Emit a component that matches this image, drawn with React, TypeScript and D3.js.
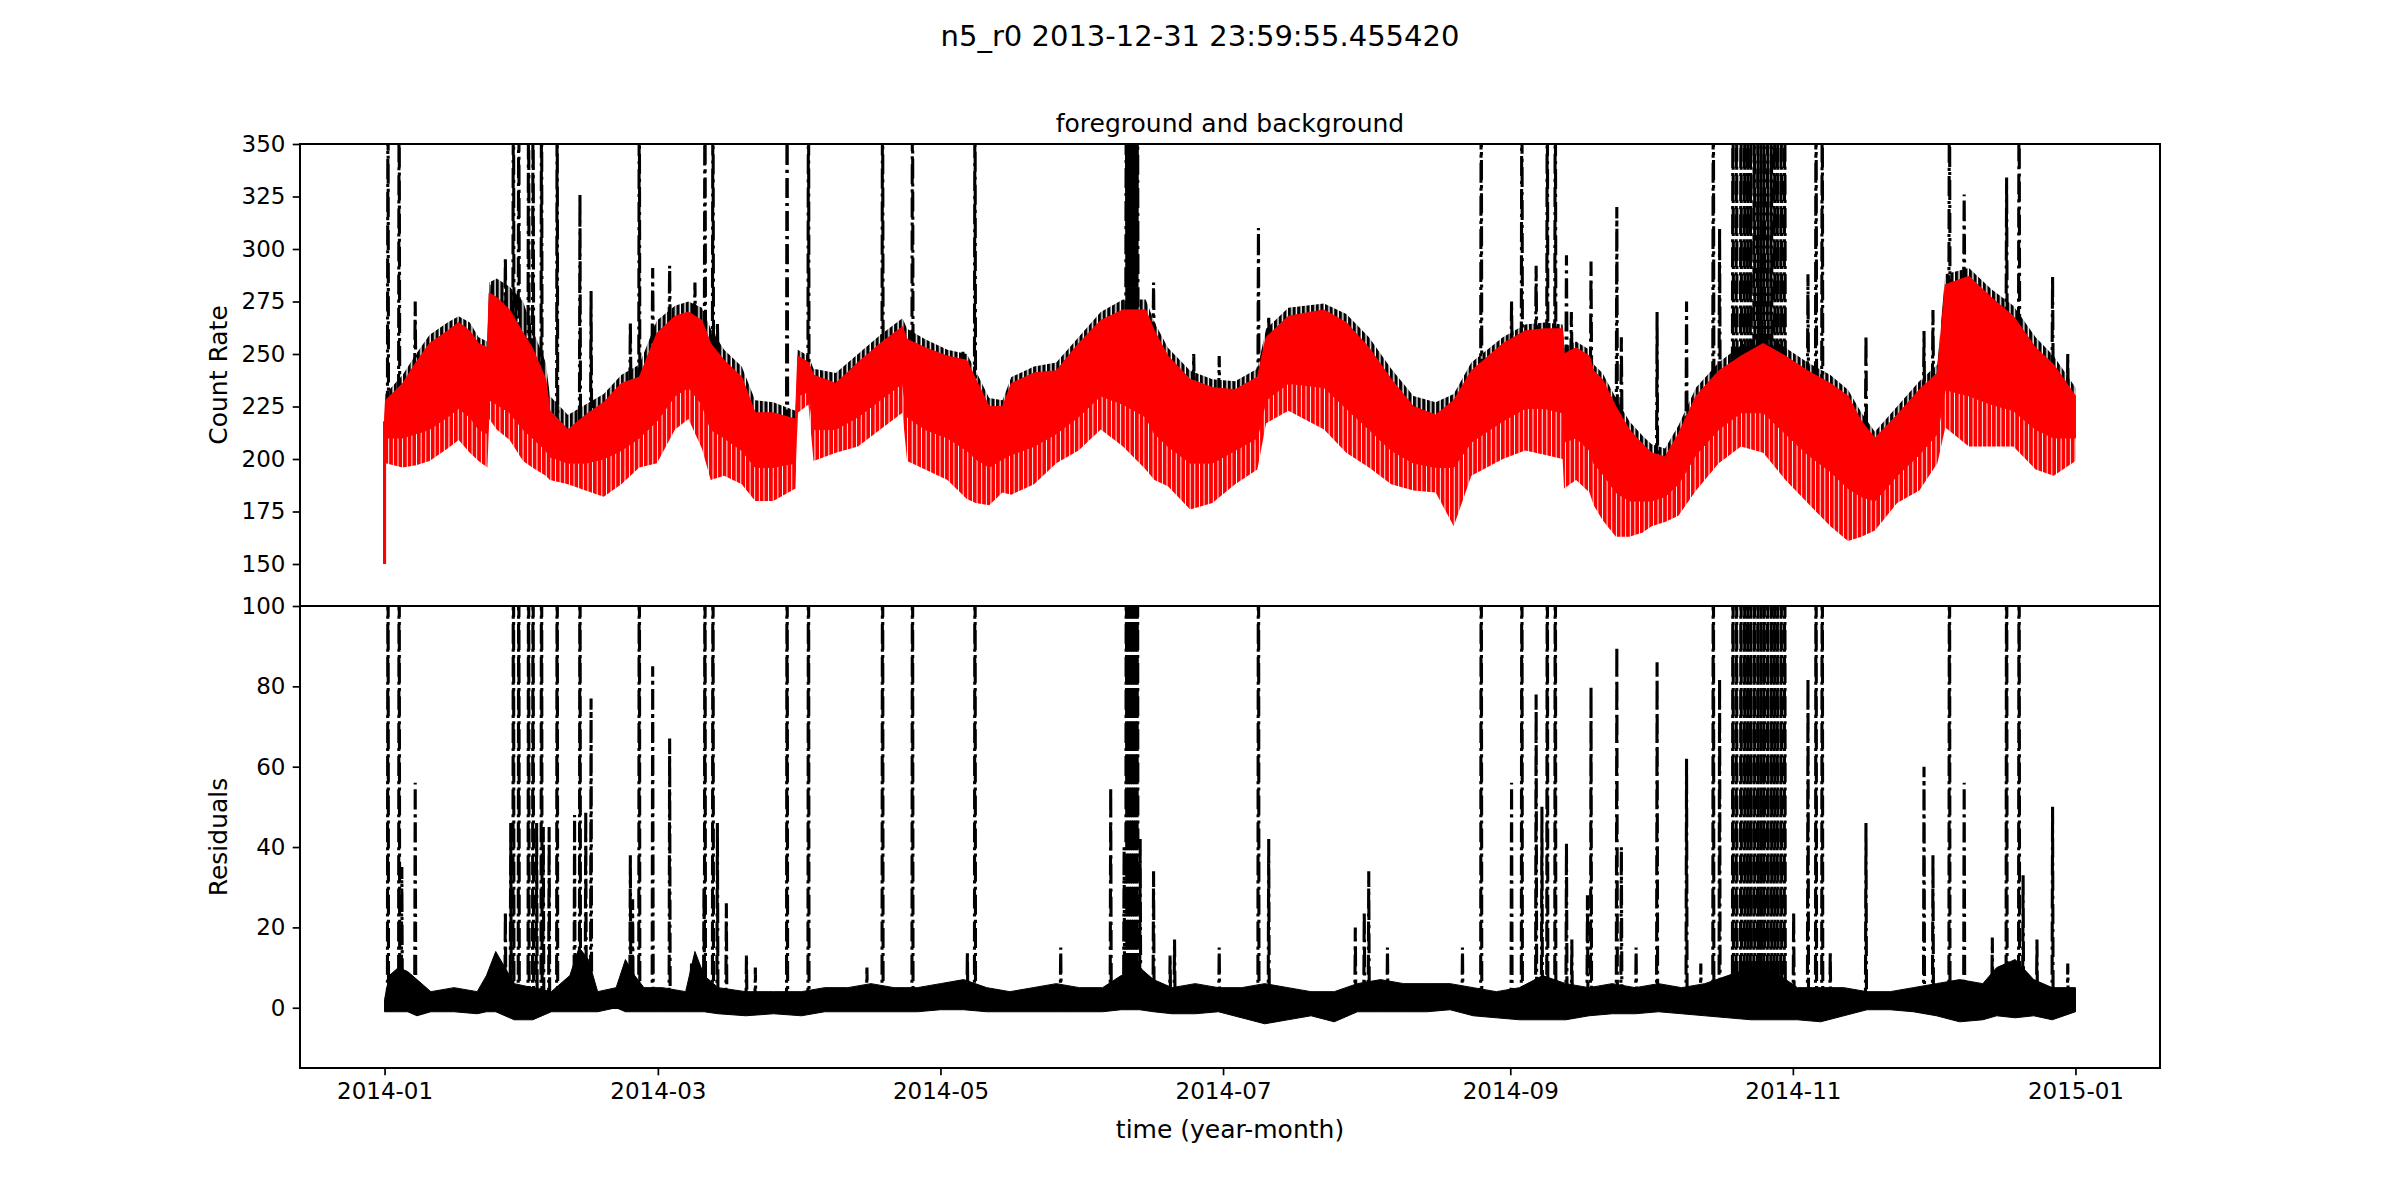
import * as d3 from "d3";
import { useEffect, useRef } from "react";

/* -----------------------------
    DATA (days since start)
----------------------------- */
const START = Date.UTC(2013, 11, 31, 23, 59, 55, 455);
const DAY = 86400000;

// background (red) envelope, its solid core, and foreground (black) upper envelope
const bgDays = [
  0.0, 0.2, 3.9, 6.8, 9.7, 13.6, 16.0, 18.4, 20.3, 22.2, 22.6, 24.2, 27.0, 29.9,
  31.9, 34.8, 35.7, 39.6, 43.4, 47.3, 51.1, 55.0, 58.8, 62.7, 65.6, 68.5, 70.4,
  73.3, 77.1, 80.0, 83.9, 88.7, 89.2, 91.5, 92.6, 97.4, 102.2, 107.0, 111.8,
  112.8, 116.7, 121.5, 125.7, 127.6, 130.5, 133.4, 135.3, 140.2, 145.0, 149.8,
  154.6, 159.4, 164.3, 166.2, 169.1, 173.9, 178.7, 183.6, 188.4, 190.3, 195.1,
  202.8, 207.6, 212.5, 217.3, 222.1, 226.9, 230.8, 234.6, 241.4, 246.2, 250.4,
  254.3, 254.6, 257.2, 260.1, 261.0, 262.9, 265.8, 268.7, 271.6, 273.5, 276.4,
  279.3, 283.1, 288.0, 292.8, 297.6, 302.4, 307.2, 312.1, 315.9, 318.8, 321.7,
  326.5, 331.3, 335.2, 336.9, 342.0, 346.8, 351.6, 356.4, 360.3, 365.0,
];
const bgHigh = [
  218, 228, 236, 246, 255, 261, 265, 261, 255, 253, 279, 277, 271, 260,
  253, 238, 223, 214, 221, 227, 236, 239, 260, 268, 270, 266, 255,
  247, 239, 222, 222, 219, 249, 246, 240, 236, 246, 255, 263,
  257, 253, 249, 247, 238, 225, 225, 236, 241, 242, 255,
  266, 271, 271, 261, 249, 238, 234, 233, 239, 258, 268,
  271, 265, 253, 238, 225, 221, 228, 242, 255, 261, 262,
  262, 250, 253, 249, 242, 238, 225, 214, 207, 203, 201,
  212, 230, 242, 249, 255, 249, 242, 236, 230, 218, 210,
  221, 233, 241, 283, 287, 277, 268, 253, 245, 230,
];
const bgCore = [
  205, 210, 210, 212, 214, 220, 224, 220, 214, 212, 228, 226, 222, 214,
  210, 204, 201, 198, 198, 200, 204, 210, 218, 230, 234, 226, 214,
  210, 204, 196, 196, 198, 230, 232, 214, 214, 220, 228, 236,
  220, 214, 210, 204, 200, 196, 200, 202, 206, 212, 220,
  230, 226, 220, 212, 206, 198, 198, 204, 210, 228, 236,
  234, 224, 214, 204, 198, 196, 196, 208, 218, 224, 224,
  222, 208, 210, 204, 198, 193, 184, 180, 180, 180, 182,
  188, 202, 214, 222, 222, 212, 202, 194, 186, 182, 180,
  192, 202, 212, 233, 230, 226, 223, 214, 210, 210,
];
const bgLow = [
  150, 198, 196, 197, 199, 205, 209, 203, 199, 196, 219, 214, 209, 199,
  196, 192, 190, 188, 185, 182, 188, 196, 198, 214, 219, 205, 190,
  192, 188, 180, 180, 186, 222, 226, 199, 203, 206, 214, 222,
  199, 195, 190, 181, 179, 178, 184, 183, 188, 198, 204,
  214, 206, 195, 190, 187, 176, 179, 188, 195, 217, 223,
  214, 203, 196, 188, 185, 184, 168, 192, 200, 204, 202,
  200, 186, 190, 184, 178, 171, 163, 163, 165, 168, 170,
  173, 185, 198, 206, 203, 190, 179, 168, 161, 163, 166,
  179, 185, 198, 215, 206, 206, 206, 195, 192, 199,
];
const fgHigh = [
  220, 231, 240, 250, 259, 265, 268, 265, 258, 256, 284, 286, 282, 275,
  262, 246, 230, 221, 226, 231, 240, 245, 266, 273, 275, 272, 262,
  252, 244, 228, 227, 223, 252, 249, 243, 241, 250, 259, 267,
  262, 257, 252, 250, 242, 229, 228, 239, 244, 246, 258,
  270, 276, 276, 265, 253, 242, 238, 237, 243, 262, 272,
  274, 269, 258, 243, 230, 227, 231, 246, 258, 264, 265,
  264, 253, 256, 252, 245, 241, 229, 218, 211, 207, 205,
  216, 234, 246, 254, 260, 253, 246, 240, 233, 222, 213,
  225, 237, 245, 288, 291, 281, 273, 258, 249, 234,
];

// isolated flares in the count rate
const topSpikeDays = [
  0.74, 3.15, 6.62, 23.19, 26.08, 27.82, 28.97, 31.09, 32.06, 33.89, 37.26,
  42.18, 44.58, 53.06, 54.99, 57.88, 61.54, 67.0, 69.16, 70.89, 71.85, 86.89,
  91.51, 107.5, 113.96, 124.85, 127.45, 160.12, 160.6, 161.09, 161.57, 162.05,
  162.53, 166.0, 174.67, 180.17, 188.64, 190.86, 236.73, 243.28, 245.5, 248.58,
  250.99, 252.72, 255.13, 256.19, 260.43, 266.0, 266.98, 274.69, 281.05,
  286.83, 288.18, 291.07, 291.84, 292.8, 293.57, 294.25, 294.92, 295.69,
  296.46, 297.14, 297.81, 298.58, 299.35, 300.03, 300.7, 301.48, 302.25,
  307.26, 309.0, 310.34, 319.78, 332.31, 334.24, 337.8, 340.98, 350.14,
  352.83, 360.06, 363.34,
];
const topSpikeVals = [
  400, 400, 275, 283, 296, 400, 400, 400, 400, 400, 400,
  326, 280, 265, 400, 291, 292, 284, 400, 400, 265, 400,
  400, 400, 400, 251, 400, 400, 400, 400, 400, 400,
  400, 284, 250, 249, 310, 268, 400, 275, 400, 292,
  400, 400, 297, 270, 294, 320, 258, 270, 275,
  400, 310, 400, 400, 400, 400, 400, 400, 400,
  400, 400, 400, 400, 400, 400, 400, 400, 400,
  288, 400, 400, 259, 261, 271, 400, 326, 334,
  400, 287, 250,
];

// residual flares
const resSpikeDays = [
  0.74, 3.15, 3.73, 6.62, 26.08, 27.24, 27.82, 28.97, 31.09, 32.06, 32.83,
  33.89, 34.27, 35.53, 37.26, 41.02, 42.18, 43.43, 44.58, 53.06, 53.55, 54.99,
  57.88, 61.54, 66.26, 68.96, 69.16, 70.89, 71.85, 73.78, 78.12, 80.04, 86.89,
  91.51, 104.13, 107.5, 113.96, 125.81, 127.45, 145.96, 156.75, 159.64, 160.12,
  160.6, 161.09, 161.57, 162.05, 162.53, 163.11, 166.0, 169.57, 170.53, 180.17,
  188.64, 190.86, 209.55, 211.48, 212.45, 216.49, 232.68, 236.73, 243.28,
  245.5, 248.58, 249.83, 250.99, 252.72, 255.13, 256.29, 259.66, 260.43, 266.0,
  266.98, 270.16, 274.69, 281.05, 284.13, 286.83, 288.18, 291.07, 291.84, 292.8,
  293.57, 294.25, 294.92, 295.69, 296.46, 297.14, 297.81, 298.58, 299.35,
  300.03, 300.7, 301.48, 302.25, 304.17, 307.26, 309.0, 310.34, 312.07, 319.78,
  332.31, 334.24, 337.8, 340.98, 347.05, 350.14, 352.83, 353.7, 356.69, 360.06,
  363.34,
];
const resSpikeVals = [
  150, 150, 35, 56, 24, 46, 150, 150, 150, 150, 46,
  150, 45, 45, 150, 48, 150, 49, 77, 38, 27, 150,
  85, 67, 11, 30, 150, 150, 46, 26, 13, 10, 150,
  150, 10, 150, 150, 14, 150, 15, 55, 40, 150,
  150, 150, 150, 150, 150, 42, 34, 13, 17, 15,
  150, 42, 20, 24, 34, 15, 15, 150, 56,
  150, 78, 50, 150, 150, 41, 17, 28, 80, 90,
  40, 15, 86, 62, 11, 150, 82, 150, 150, 150,
  150, 150, 150, 150, 150, 150, 150, 150, 150,
  150, 150, 150, 150, 24, 82, 150, 150, 14, 46,
  60, 38, 150, 56, 17.5, 150, 150, 33, 17, 50,
  11,
];

// residual noise envelope
const resDays = [
  0, 1, 3, 5, 7, 10, 15, 20, 22, 24, 26, 28, 32, 36, 40, 42, 44, 46, 50, 52,
  54, 56, 60, 65, 67, 69, 72, 78, 84, 90, 95, 100, 105, 110, 115, 120, 125,
  130, 135, 140, 145, 150, 155, 159, 163, 166, 170, 175, 180, 185, 190, 195,
  200, 205, 210, 215, 220, 225, 230, 235, 240, 245, 250, 255, 260, 265, 270,
  275, 280, 285, 290, 295, 300, 305, 310, 315, 320, 325, 330, 335, 340, 345,
  348, 352, 356, 360, 365,
];
const resHigh = [
  2, 8, 10, 9, 7, 4, 5, 4, 8, 14, 10, 6, 5, 4, 8, 15, 12, 4, 5, 12,
  8, 5, 5, 4, 14, 8, 5, 4, 4, 4, 5, 5, 6, 5, 5, 6, 7,
  5, 4, 5, 6, 5, 5, 8, 10, 7, 5, 6, 5, 5, 6, 5,
  4, 4, 6, 7, 6, 6, 6, 5, 4, 5, 8, 6, 5, 6, 5,
  6, 5, 6, 8, 10, 9, 5, 5, 5, 4, 4, 5, 6, 7, 6,
  10, 12, 7, 5, 5,
];
const resLow = [
  -1, -1, -1, -1, -2, -1, -1, -1.5, -1, -1, -2, -3, -3, -1, -1, -1, -1, -1, 0, -1,
  -1, -1, -1, -1, -1, -1, -1.5, -2, -1.5, -2, -1, -1, -1, -1, -1, -0.5, -0.5,
  -1, -1, -1, -1, -1, -1, -0.5, -0.5, -1, -1.5, -1.5, -1, -2.5, -4, -3,
  -2, -3.5, -1, -1, -1, -1, -0.5, -2, -2.5, -3, -3, -3, -2, -1.5, -1.5,
  -1, -1.5, -2, -2.5, -3, -3, -3, -3.5, -2, -0.5, -0.5, -1, -2, -3.5, -3,
  -2, -2.5, -2, -3, -1,
];

const countTicks = [150, 175, 200, 225, 250, 275, 300, 325, 350];
const residTicks = [0, 20, 40, 60, 80, 100];
const monthTicks = ["2014-01", "2014-03", "2014-05", "2014-07", "2014-09", "2014-11", "2015-01"];

export default function App() {
  const ref = useRef<SVGSVGElement | null>(null);

  useEffect(() => {
    if (!ref.current) return;
    document.body.style.margin = "0";

    const svg = d3.select(ref.current);
    svg.selectAll("*").remove();

    const W = 2400;
    const H = 1200;
    const left = 300;
    const right = 2160;
    const top1 = 144;
    const mid = 606;
    const bottom2 = 1068;
    const font = "DejaVu Sans";
    const dash = "20,5,3.1,5";

    const toDate = (d: number) => new Date(START + d * DAY);
    const x0 = Date.UTC(2014, 0, 1) - 18.25 * DAY;
    const x1 = Date.UTC(2015, 0, 1) + 18.25 * DAY;

    /* -----------------------------
        SCALES
    ----------------------------- */
    const x = d3.scaleUtc().domain([new Date(x0), new Date(x1)]).range([left, right]);
    const yTop = d3.scaleLinear().domain([130, 350]).range([mid, top1]);
    const yRes = d3.scaleLinear().domain([-15, 100]).range([bottom2, mid]);

    svg.attr("width", W).attr("height", H).attr("viewBox", `0 0 ${W} ${H}`);
    svg.append("rect").attr("width", W).attr("height", H).attr("fill", "#fff");

    const defs = svg.append("defs");
    defs.append("clipPath").attr("id", "clipTop")
      .append("rect").attr("x", left).attr("y", top1).attr("width", right - left).attr("height", mid - top1);
    defs.append("clipPath").attr("id", "clipRes")
      .append("rect").attr("x", left).attr("y", mid).attr("width", right - left).attr("height", bottom2 - mid);

    // the ~daily oscillation is drawn as a comb texture
    const period = x(toDate(1)) - x(toDate(0));
    const comb = (id: string, color: string, frac: number) => {
      const p = defs.append("pattern").attr("id", id).attr("patternUnits", "userSpaceOnUse")
        .attr("x", x(toDate(0))).attr("width", period).attr("height", 20);
      p.append("rect").attr("width", period * frac).attr("height", 20).attr("fill", color);
    };
    comb("combRed", "#ff0000", 0.8);
    comb("combBlack", "#000", 0.7);

    /* -----------------------------
        TOP PANEL
    ----------------------------- */
    const gTop = svg.append("g").attr("clip-path", "url(#clipTop)");
    const idx = d3.range(bgDays.length);
    const bx = (i: number) => x(toDate(bgDays[i]));

    const fgArea = d3.area<number>().x(bx).y0((i) => yTop(bgCore[i])).y1((i) => yTop(fgHigh[i]));
    gTop.append("path").attr("d", fgArea(idx)!).attr("fill", "url(#combBlack)");

    const nearest = d3.bisector((d: number) => d).center;
    const spikeLine = d3.line<[number, number]>();
    const halfW = 0.12;

    topSpikeDays.forEach((d, i) => {
      const base = bgHigh[nearest(bgDays, d)] - 5;
      const pts: [number, number][] = [
        [x(toDate(d - halfW)), yTop(base)],
        [x(toDate(d)), yTop(topSpikeVals[i])],
        [x(toDate(d + halfW)), yTop(base)],
      ];
      gTop.append("path").attr("d", spikeLine(pts)!).attr("fill", "none")
        .attr("stroke", "#000").attr("stroke-width", 3.1).attr("stroke-dasharray", dash);
    });

    const fringeArea = d3.area<number>().x(bx).y0((i) => yTop(bgLow[i])).y1((i) => yTop(bgCore[i]));
    gTop.append("path").attr("d", fringeArea(idx)!).attr("fill", "url(#combRed)");

    const coreArea = d3.area<number>().x(bx).y0((i) => yTop(bgCore[i])).y1((i) => yTop(bgHigh[i]));
    gTop.append("path").attr("d", coreArea(idx)!).attr("fill", "#ff0000")
      .attr("stroke", "#ff0000").attr("stroke-width", 1).attr("stroke-linejoin", "round");

    // first sample: drop to the lowest value
    const first: [number, number][] = [[bx(0), yTop(bgLow[0])], [bx(0), yTop(bgHigh[0])]];
    gTop.append("path").attr("d", spikeLine(first)!).attr("stroke", "#ff0000").attr("stroke-width", 3.1);

    /* -----------------------------
        RESIDUAL PANEL
    ----------------------------- */
    const gRes = svg.append("g").attr("clip-path", "url(#clipRes)");
    const ridx = d3.range(resDays.length);
    const resArea = d3.area<number>()
      .x((i) => x(toDate(resDays[i])))
      .y0((i) => yRes(resLow[i]))
      .y1((i) => yRes(resHigh[i]));
    gRes.append("path").attr("d", resArea(ridx)!).attr("fill", "#000")
      .attr("stroke", "#000").attr("stroke-width", 1);

    resSpikeDays.forEach((d, i) => {
      const pts: [number, number][] = [
        [x(toDate(d - halfW)), yRes(0)],
        [x(toDate(d)), yRes(resSpikeVals[i])],
        [x(toDate(d + halfW)), yRes(0)],
      ];
      gRes.append("path").attr("d", spikeLine(pts)!).attr("fill", "none")
        .attr("stroke", "#000").attr("stroke-width", 3.1).attr("stroke-dasharray", dash);
    });

    const zero: [number, number][] = [
      [x(toDate(bgDays[0])), yRes(0)],
      [x(toDate(bgDays[bgDays.length - 1])), yRes(0)],
    ];
    gRes.append("path").attr("d", spikeLine(zero)!).attr("stroke", "#000").attr("stroke-width", 2.5);

    /* -----------------------------
        AXES
    ----------------------------- */
    const styleAxis = (g: d3.Selection<SVGGElement, unknown, null, undefined>) => {
      g.select(".domain").remove();
      g.selectAll(".tick line").attr("stroke", "#000").attr("stroke-width", 1.7);
      g.selectAll(".tick text").attr("font-family", font).attr("font-size", 23).attr("fill", "#000");
    };

    svg.append("g").attr("transform", `translate(${left},0)`)
      .call(d3.axisLeft(yTop).tickValues(countTicks).tickSize(7.3).tickPadding(7.3))
      .call(styleAxis);

    svg.append("g").attr("transform", `translate(${left},0)`)
      .call(d3.axisLeft(yRes).tickValues(residTicks).tickSize(7.3).tickPadding(7.3))
      .call(styleAxis);

    const parseMonth = d3.utcParse("%Y-%m");
    svg.append("g").attr("transform", `translate(0,${bottom2})`)
      .call(
        d3.axisBottom(x)
          .tickValues(monthTicks.map((m) => parseMonth(m)!))
          .tickFormat((d) => d3.utcFormat("%Y-%m")(d as Date))
          .tickSize(7.3).tickPadding(7.3)
      )
      .call(styleAxis);

    // frames
    [[top1, mid], [mid, bottom2]].forEach(([a, b]) => {
      svg.append("rect").attr("x", left).attr("y", a).attr("width", right - left).attr("height", b - a)
        .attr("fill", "none").attr("stroke", "#000").attr("stroke-width", 2);
    });

    /* -----------------------------
        TEXT
    ----------------------------- */
    svg.append("text").attr("x", W / 2).attr("y", 46).attr("text-anchor", "middle")
      .attr("font-family", font).attr("font-size", 29).text("n5_r0 2013-12-31 23:59:55.455420");

    svg.append("text").attr("x", (left + right) / 2).attr("y", 132).attr("text-anchor", "middle")
      .attr("font-family", font).attr("font-size", 25).text("foreground and background");

    svg.append("text").attr("transform", `translate(227,${(top1 + mid) / 2}) rotate(-90)`)
      .attr("text-anchor", "middle").attr("font-family", font).attr("font-size", 25).text("Count Rate");

    svg.append("text").attr("transform", `translate(227,${(mid + bottom2) / 2}) rotate(-90)`)
      .attr("text-anchor", "middle").attr("font-family", font).attr("font-size", 25).text("Residuals");

    svg.append("text").attr("x", (left + right) / 2).attr("y", 1138).attr("text-anchor", "middle")
      .attr("font-family", font).attr("font-size", 25).text("time (year-month)");
  }, []);

  return <svg ref={ref} style={{ display: "block" }} />;
}
